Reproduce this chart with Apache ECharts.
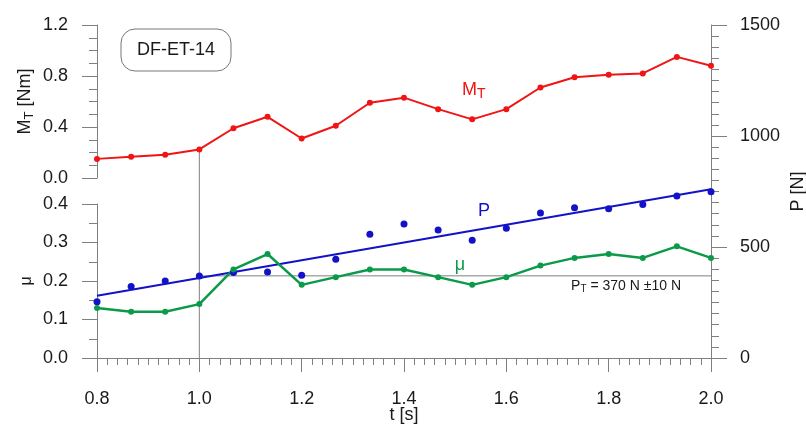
<!DOCTYPE html>
<html>
<head>
<meta charset="utf-8">
<script src="https://cdn.jsdelivr.net/npm/echarts@6/dist/echarts.min.js"></script>
<style>html,body{margin:0;padding:0;background:#fff}#c{width:806px;height:425px}</style>
</head>
<body>
<div id="c"></div>
<script>
// ---- data ----
const timeS = [0.8, 0.8667, 0.9333, 1.0, 1.0667, 1.1333, 1.2, 1.2667, 1.3333, 1.4, 1.4667, 1.5333, 1.6, 1.6667, 1.7333, 1.8, 1.8667, 1.9333, 2.0];
const torqueNm = [0.15, 0.167, 0.182, 0.224, 0.39, 0.48, 0.31, 0.41, 0.59, 0.63, 0.54, 0.46, 0.54, 0.71, 0.79, 0.81, 0.82, 0.95, 0.88];
const frictionMu = [0.13, 0.12, 0.12, 0.14, 0.23, 0.27, 0.19, 0.21, 0.23, 0.23, 0.21, 0.19, 0.21, 0.24, 0.26, 0.27, 0.26, 0.29, 0.26];
const forceN = [253, 322, 347, 369, 385, 387, 373, 445, 557, 604, 577, 530, 584, 653, 677, 672, 692, 730, 749];
const trendT = [0.8, 2.0];
const trendP = [280, 760];
const thresholdP = 370;
const thresholdStartT = 1.0;
const markerT = 1.0;
const xTicks = [0.8, 1.0, 1.2, 1.4, 1.6, 1.8, 2.0];
const torqueTicks = [0.0, 0.4, 0.8, 1.2];
const muTicks = [0.0, 0.1, 0.2, 0.3, 0.4];
const forceTicks = [0, 500, 1000, 1500];

const pair = (xs, ys) => xs.map((x, i) => [x, ys[i]]);

const FONT = "'Liberation Sans', Arial, Helvetica, sans-serif";
const GRAY = '#808080';
const TXT = '#1a1a1a';
const RED = '#f01414';
const BLUE = '#1212c8';
const GREEN = '#0b9a4a';

function yAxisBase(grid, pos, ticks, minorSplit, fmt, tickLen) {
  return {
    gridIndex: grid, type: 'value', position: pos,
    min: ticks[0], max: ticks[ticks.length - 1], interval: ticks[1] - ticks[0],
    nameMoveOverlap: false,
    axisLine: { show: true, onZero: false, lineStyle: { color: GRAY, width: 1 } },
    axisTick: { show: true, length: tickLen, lineStyle: { color: GRAY, width: 1 } },
    minorTick: { show: true, splitNumber: minorSplit, length: 8, lineStyle: { color: GRAY, width: 1 } },
    splitLine: { show: false },
    axisLabel: { margin: 29, fontSize: 18, color: TXT, fontFamily: FONT, formatter: fmt, hideOverlap: false }
  };
}

const yForce = yAxisBase(0, 'right', forceTicks, 10, v => String(v), 16);
Object.assign(yForce, {
  name: 'P [N]', nameLocation: 'middle', nameGap: 78,
  nameTextStyle: { fontSize: 18, color: TXT, fontFamily: FONT }
});
const yTorque = yAxisBase(1, 'left', torqueTicks, 4, v => v.toFixed(1), 15);
Object.assign(yTorque, {
  name: '{m|M}{s|T}{m| [Nm]}', nameLocation: 'middle', nameGap: 61,
  nameTextStyle: {
    fontFamily: FONT, color: TXT,
    rich: {
      m: { fontSize: 18, lineHeight: 22, color: TXT, fontFamily: FONT },
      s: { fontSize: 13, lineHeight: 14, verticalAlign: 'bottom', color: TXT, fontFamily: FONT }
    }
  }
});
const yMu = yAxisBase(2, 'left', muTicks, 2, v => v.toFixed(1), 15);
Object.assign(yMu, {
  name: 'μ', nameLocation: 'middle', nameGap: 62,
  nameTextStyle: { fontSize: 16, color: TXT, fontFamily: FONT }
});

const gridBase = { left: 97, right: 95, containLabel: false, outerBoundsMode: 'none' };

const option = {
  animation: false,
  backgroundColor: '#ffffff',
  textStyle: { fontFamily: FONT },
  grid: [
    Object.assign({}, gridBase, { top: 25, bottom: 67 }),
    Object.assign({}, gridBase, { top: 25, height: 153 }),
    Object.assign({}, gridBase, { top: 204, height: 154 })
  ],
  xAxis: [
    {
      gridIndex: 0, type: 'value', min: xTicks[0], max: xTicks[xTicks.length - 1], interval: xTicks[1] - xTicks[0],
      nameMoveOverlap: false,
      axisLine: { show: true, onZero: false, lineStyle: { color: GRAY, width: 1 } },
      axisTick: { show: true, length: 14, lineStyle: { color: GRAY, width: 1 } },
      minorTick: { show: true, splitNumber: 10, length: 7, lineStyle: { color: GRAY, width: 1 } },
      splitLine: { show: false },
      axisLabel: { margin: 32, fontSize: 18, color: TXT, fontFamily: FONT, formatter: v => v.toFixed(1), hideOverlap: false },
      name: 't [s]', nameLocation: 'middle', nameGap: 48,
      nameTextStyle: { fontSize: 18, color: TXT, fontFamily: FONT }
    },
    { gridIndex: 1, type: 'value', min: xTicks[0], max: xTicks[xTicks.length - 1], show: false },
    { gridIndex: 2, type: 'value', min: xTicks[0], max: xTicks[xTicks.length - 1], show: false }
  ],
  yAxis: [yForce, yTorque, yMu],
  series: [
    {
      name: 'P trend', type: 'line', xAxisIndex: 0, yAxisIndex: 0,
      data: pair(trendT, trendP), symbol: 'none', z: 3,
      lineStyle: { color: BLUE, width: 2 }
    },
    {
      name: 'P', type: 'scatter', xAxisIndex: 0, yAxisIndex: 0,
      data: pair(timeS, forceN), symbol: 'circle', symbolSize: 7, z: 4,
      itemStyle: { color: BLUE, opacity: 1 }
    },
    {
      name: 'MT', type: 'line', xAxisIndex: 1, yAxisIndex: 1,
      data: pair(timeS, torqueNm), symbol: 'circle', symbolSize: 6, showSymbol: true, z: 4,
      lineStyle: { color: RED, width: 2 }, itemStyle: { color: RED, borderWidth: 0 }
    },
    {
      name: 'mu', type: 'line', xAxisIndex: 2, yAxisIndex: 2,
      data: pair(timeS, frictionMu), symbol: 'circle', symbolSize: 6, showSymbol: true, z: 4,
      lineStyle: { color: GREEN, width: 2.5 }, itemStyle: { color: GREEN, borderWidth: 0 }
    }
  ]
};

const chart = echarts.init(document.getElementById('c'), null, { renderer: 'canvas' });
chart.setOption(option);

const mi = timeS.indexOf(markerT);
const vTop = chart.convertToPixel({ gridIndex: 1 }, [markerT, torqueNm[mi]]);
const vBot = chart.convertToPixel({ gridIndex: 0 }, [markerT, 0]);
const hA = chart.convertToPixel({ gridIndex: 0 }, [thresholdStartT, thresholdP]);
const hB = chart.convertToPixel({ gridIndex: 0 }, [xTicks[xTicks.length - 1], thresholdP]);

chart.setOption({
  graphic: [
    { type: 'line', z: 1, shape: { x1: vTop[0], y1: vTop[1], x2: vBot[0], y2: vBot[1] }, style: { stroke: GRAY, lineWidth: 1 } },
    { type: 'line', z: 1, shape: { x1: hA[0], y1: hA[1], x2: hB[0], y2: hB[1] }, style: { stroke: GRAY, lineWidth: 1 } },
    {
      type: 'text', z: 5, x: hB[0] - 30, y: hA[1] + 10,
      style: {
        text: '{m|P}{s|T}{m| = 370 N ±10 N}', align: 'right', verticalAlign: 'middle',
        rich: {
          m: { fontSize: 14, lineHeight: 17, fill: TXT, fontFamily: FONT },
          s: { fontSize: 10, lineHeight: 11, verticalAlign: 'bottom', fill: TXT, fontFamily: FONT }
        }
      }
    },
    { type: 'rect', z: 5, shape: { x: 121, y: 29, width: 110, height: 42, r: 14 }, style: { fill: '#ffffff', stroke: '#777777', lineWidth: 1 } },
    { type: 'text', z: 6, x: 176, y: 50.5, style: { text: 'DF-ET-14', align: 'center', verticalAlign: 'middle', fontSize: 18, fontFamily: FONT, fill: TXT } },
    {
      type: 'text', z: 6, x: 462, y: 90,
      style: {
        text: '{m|M}{s|T}', align: 'left', verticalAlign: 'middle',
        rich: {
          m: { fontSize: 18, lineHeight: 22, fill: RED, fontFamily: FONT },
          s: { fontSize: 14, lineHeight: 14, verticalAlign: 'bottom', fill: RED, fontFamily: FONT }
        }
      }
    },
    { type: 'text', z: 6, x: 484, y: 211.5, style: { text: 'P', align: 'center', verticalAlign: 'middle', fontSize: 18, fontFamily: FONT, fill: BLUE } },
    { type: 'text', z: 6, x: 460, y: 265, style: { text: 'μ', align: 'center', verticalAlign: 'middle', fontSize: 18, fontFamily: FONT, fill: GREEN } }
  ]
});
</script>
</body>
</html>
